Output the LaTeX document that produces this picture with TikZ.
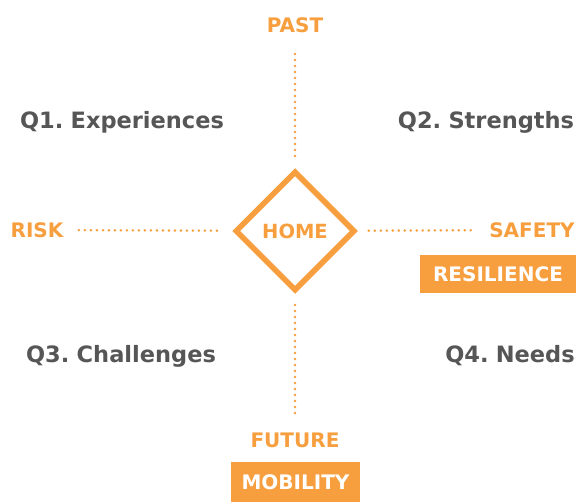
\documentclass[tikz,border=0pt]{standalone}
\usepackage{fontspec}
\setmainfont{DejaVu Sans}[WordSpace=0.6]
\usetikzlibrary{shapes.geometric}
\definecolor{ornge}{HTML}{F79E3E}
\definecolor{txtgray}{HTML}{565656}
\tikzset{
  axislabel/.style={text=ornge, font=\bfseries\fontsize{20}{20}\selectfont},
  quarter/.style={text=txtgray, font=\bfseries\fontsize{22.5}{22.5}\selectfont},
  tagbox/.style={fill=ornge, text=white, inner sep=0pt, font=\bfseries\fontsize{20}{20}\selectfont},
  dotline/.style={ornge, line width=2.8pt, line cap=round, dash pattern=on 0pt off 6pt}
}
\begin{document}
\begin{tikzpicture}[x=1pt, y=1pt, line join=miter]
				\useasboundingbox (0,0) rectangle (580,-502);
				% centre
				\node[diamond, draw=ornge, line width=5.5pt, minimum width=120pt, minimum height=120pt, inner sep=0pt, text=ornge, font=\bfseries\fontsize{19.5}{19.5}\selectfont] (home) at (295,-231) {HOME};
				% axes
				\node[axislabel] (past) at (295,-25) {PAST};
				\node[axislabel] (future) at (295,-440) {FUTURE};
				\node[axislabel] (risk) at (37,-230) {RISK};
				\node[axislabel] (safety) at (532,-230) {SAFETY};
				\node[tagbox, minimum width=156pt, minimum height=38pt] (resilience) at (498,-274) {RESILIENCE};
				\node[tagbox, minimum width=129pt, minimum height=40pt] (mobility) at (295.5,-482) {MOBILITY};
				% quarters
				\node[quarter] (q1) at (122,-122) {Q1. Experiences};
				\node[quarter] (q2) at (486,-122) {Q2. Strengths};
				\node[quarter] (q3) at (121,-356) {Q3. Challenges};
				\node[quarter] (q4) at (510,-356) {Q4. Needs};
				% dotted lines
				\draw[dotline, shorten <=18pt, shorten >=10pt] (past) -- (home);
				\draw[dotline, shorten <=16pt, shorten >=10pt] (future) -- (home);
				\draw[dotline, shorten <=12pt, shorten >=10pt] (risk) -- (home);
				\draw[dotline, shorten <=15pt, shorten >=10pt] (safety) -- (home);
\end{tikzpicture}
\end{document}
